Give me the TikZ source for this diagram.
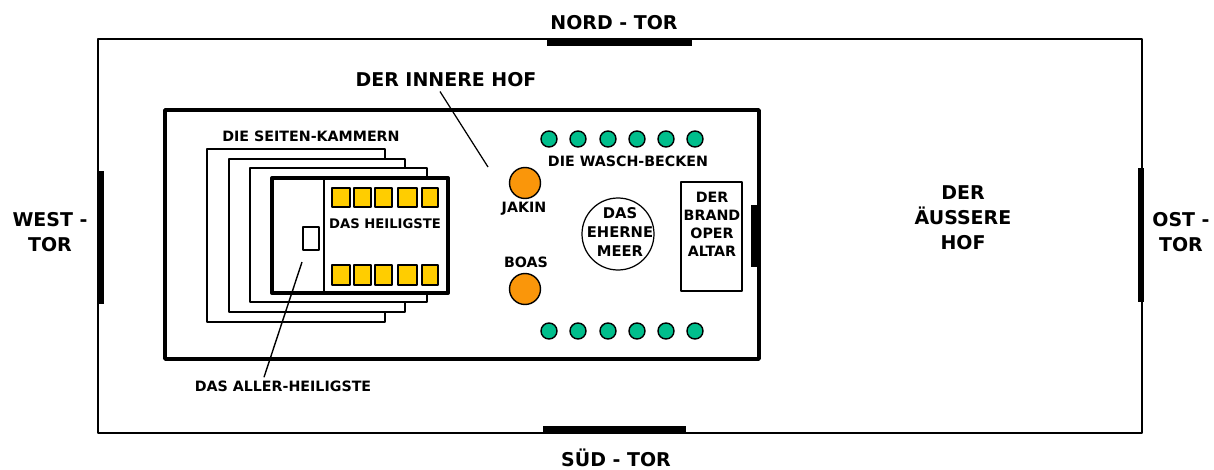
\documentclass[tikz,border=0pt]{standalone}
\usepackage{fontspec}
\setmainfont{DejaVu Sans}
\definecolor{beckengruen}{RGB}{0,190,140}
\definecolor{saeulenorange}{RGB}{250,150,10}
\definecolor{tischgelb}{RGB}{255,205,0}
\tikzset{
  bigtext/.style={inner sep=0pt,align=center,font=\fontsize{10.8}{14.2}\selectfont\bfseries},
  smalltext/.style={inner sep=0pt,align=center,font=\fontsize{8.1}{10.3}\selectfont\bfseries},
  tinytext/.style={inner sep=0pt,align=center,font=\fontsize{7.5}{10.3}\selectfont\bfseries},
  gate/.style={line width=3pt,line cap=butt},
  chamber/.style={line width=0.8pt,fill=white},
  basin/.style={draw,line width=0.8pt,fill=beckengruen},
  pillar/.style={draw,line width=0.8pt,fill=saeulenorange},
  tablebox/.style={draw,line width=0.8pt,fill=tischgelb},
}
\begin{document}
\begin{tikzpicture}[x=0.02cm,y=-0.02cm,line join=round]
  \useasboundingbox (0,0) rectangle (1214,470);

  % ---- der aeussere Hof und die Tore ---------------------------------------
  \draw[line width=0.9pt] (98,39) rectangle (1142,433);
  \draw[gate] (547,43) -- (692,43);
  \draw[gate] (543,429) -- (686,429);
  \draw[gate] (101,171) -- (101,304);
  \draw[gate] (1141,168) -- (1141,302);
  \node[bigtext] (nordtor) at (614,23) {NORD - TOR};
  \node[bigtext] (suedtor) at (616,458) {SÜD - TOR};
  \node[bigtext] (westtor) at (50,232) {WEST -\\TOR};
  \node[bigtext] (osttor) at (1181,232) {OST -\\TOR};
  \node[bigtext] (aussenhof) at (963,218) {DER\\ÄUSSERE\\HOF};

  % ---- der innere Hof -------------------------------------------------------
  \draw[line width=2pt] (165,110) rectangle (759,359);
  \draw[line width=4.2pt,line cap=butt] (755,205) -- (755,267);
  \node[bigtext] (innenhof) at (446,80) {DER INNERE HOF};
  \coordinate (innenhofend) at (488,167);
  \draw[line width=0.7pt] (innenhof.south)+(-6,4) -- (innenhofend);

  % ---- die Seiten-Kammern ---------------------------------------------------
  \draw[chamber] (207,149) rectangle (385,322);
  \draw[chamber] (229,159) rectangle (405,312);
  \draw[chamber] (250,168) rectangle (427,302);
  \node[smalltext] (kammern) at (311,136) {DIE SEITEN-KAMMERN};

  % ---- der Tempel -----------------------------------------------------------
  \draw[line width=2.3pt,fill=white] (272,178) rectangle (448,293);
  \draw[line width=0.8pt] (324,178) -- (324,293);
  \draw[line width=0.8pt] (303,227) rectangle (319,250);
  \foreach \xa/\xb in {332/350,354/371,375/392,398/417,422/438} {
    \draw[tablebox] (\xa,188) rectangle (\xb,207);
    \draw[tablebox] (\xa,265) rectangle (\xb,285);
  }
  \node[tinytext] (heiligste) at (385,224) {DAS HEILIGSTE};
  \node[smalltext] (allerheiligste) at (283,386) {DAS ALLER-HEILIGSTE};
  \coordinate (allerend) at (302,262);
  \draw[line width=0.8pt] (allerheiligste.north)+(-19,-3) -- (allerend);

  % ---- Becken, Saeulen, Meer und Altar --------------------------------------
  \foreach \x in {549,578,608,637,666,695} {
    \draw[basin] (\x,139) circle (8);
    \draw[basin] (\x,331) circle (8);
  }
  \node[smalltext] (becken) at (628,161) {DIE WASCH-BECKEN};
  \draw[pillar] (525,183) circle (15.5);
  \draw[pillar] (525,289) circle (15.5);
  \node[smalltext] (jakin) at (524,209) {JAKIN};
  \node[smalltext] (boas) at (526,262) {BOAS};
  \draw[line width=0.7pt] (618,234) circle (36);
  \node[smalltext,font=\fontsize{8.4}{11}\selectfont\bfseries] (meer) at (620,232) {DAS\\EHERNE\\MEER};
  \draw[line width=0.8pt] (681,182) rectangle (742,291);
  \node[smalltext] (altar) at (712,224) {DER\\BRAND\\OPER\\ALTAR};
\end{tikzpicture}
\end{document}
